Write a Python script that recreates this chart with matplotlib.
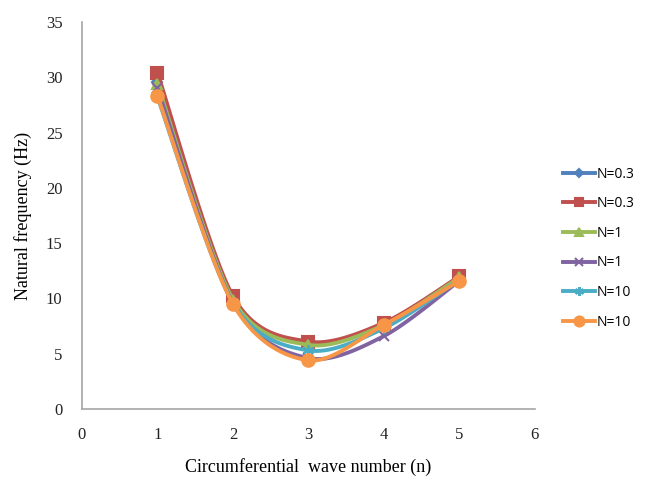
import numpy as np
import matplotlib.pyplot as plt

n = [1, 2, 3, 4, 5]
labels = ["N=0.3", "N=0.3", "N=1", "N=1", "N=10", "N=10"]
f_blue = [29.6, 10.0, 5.9, 7.7, 11.9]
f_red = [30.4, 10.2, 6.1, 7.8, 12.0]
f_green = [29.4, 9.9, 5.8, 7.6, 11.9]
f_purple = [29.0, 9.6, 4.6, 6.6, 11.6]
f_cyan = [28.2, 9.6, 5.3, 7.3, 11.7]
f_orange = [28.3, 9.5, 4.4, 7.6, 11.6]

colors = ["#4F81BD", "#C0504D", "#9BBB59", "#8064A2", "#4BACC6", "#F79646"]
markers = ["D", "s", "^", "x", (6, 2, 0), "o"]
msizes = [5, 8, 7, 7, 8, 9]


def smooth(x, y, steps=30):
    # catmull-rom style curve, like excel "smoothed line"
    x = np.asarray(x, float)
    y = np.asarray(y, float)
    px = np.concatenate([[x[0]], x, [x[-1]]])
    py = np.concatenate([[y[0]], y, [y[-1]]])
    xs, ys = [], []
    for i in range(1, len(px) - 2):
        t = np.linspace(0, 1, steps)
        for arr, out in ((px, xs), (py, ys)):
            p0, p1, p2, p3 = arr[i - 1], arr[i], arr[i + 1], arr[i + 2]
            m1 = (p2 - p0) / 2 * 0.9
            m2 = (p3 - p1) / 2 * 0.9
            h00 = 2 * t**3 - 3 * t**2 + 1
            h10 = t**3 - 2 * t**2 + t
            h01 = -2 * t**3 + 3 * t**2
            h11 = t**3 - t**2
            out.extend(h00 * p1 + h10 * m1 + h01 * p2 + h11 * m2)
    return np.array(xs), np.array(ys)


fig = plt.figure(figsize=(6.48, 4.78), dpi=100)
ax = fig.add_axes([0.1265, 0.1444, 0.699, 0.8096])

series = [f_blue, f_red, f_green, f_purple, f_cyan, f_orange]
handles = []
for ys, c, m, ms, lab in zip(series, colors, markers, msizes, labels):
    sx, sy = smooth(n, ys)
    ax.plot(sx, sy, color=c, lw=2.8, solid_capstyle="round")
    ax.plot(n, ys, linestyle="none", marker=m, color=c, markersize=ms,
            markeredgewidth=1.5)
    h, = ax.plot([], [], color=c, lw=2.8, marker=m, markersize=ms * 0.8,
                 markeredgewidth=1.5, label=lab)
    handles.append(h)

ax.set_xlim(0, 6)
ax.set_ylim(0, 35)
ax.set_xticks(range(0, 7))
ax.set_yticks(range(0, 36, 5))
ax.tick_params(length=0, labelsize=12)
ax.tick_params(axis="x", pad=13)
ax.tick_params(axis="y", pad=14)
for lab in ax.get_xticklabels() + ax.get_yticklabels():
    lab.set_fontfamily("Liberation Serif")
    lab.set_color("#222222")

for s in ["top", "right"]:
    ax.spines[s].set_visible(False)
for s in ["left", "bottom"]:
    ax.spines[s].set_color("#A6A6A6")
    ax.spines[s].set_linewidth(1.2)

ax.set_xlabel("Circumferential  wave number (n)", fontsize=13,
              fontfamily="Liberation Serif", labelpad=11)
ax.set_ylabel("Natural frequency (Hz)", fontsize=13,
              fontfamily="Liberation Serif", labelpad=10)

fig.legend(handles=handles, loc="center left", bbox_to_anchor=(0.85, 0.481),
           frameon=False, prop={"family": "Open Sans", "size": 10},
           handlelength=2.3, handletextpad=0.1, labelspacing=1.05)

fig.savefig("out.png", dpi=100)
